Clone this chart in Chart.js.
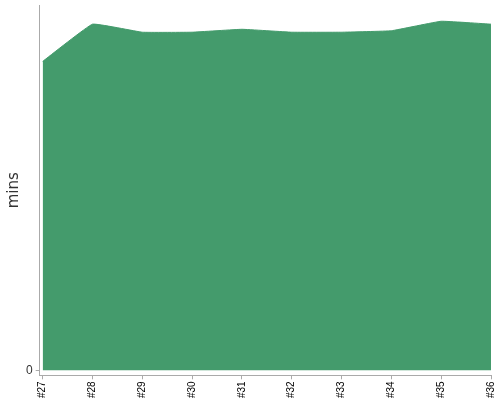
<!DOCTYPE html>
<html>
<head>
<meta charset="utf-8">
<script src="https://cdn.jsdelivr.net/npm/chart.js@4/dist/chart.umd.min.js"></script>
<style>
  html, body { margin: 0; padding: 0; background: #fff; overflow: hidden; }
  #wrap { position: relative; top: -5px; width: 505px; height: 405px; }
</style>
</head>
<body>
<div id="wrap"><canvas id="buildChart"></canvas></div>
<script>
// builds along the x axis, minutes per build
const builds = ['#27', '#28', '#29', '#30', '#31', '#32', '#33', '#34', '#35', '#36'];
const durations = [42.3, 47.4, 46.3, 46.3, 46.7, 46.3, 46.3, 46.5, 47.8, 47.4];
const yTicks = [0];

const points = durations.map((v, i) => ({ x: i, y: v }));

new Chart(document.getElementById('buildChart').getContext('2d'), {
  type: 'line',
  data: {
    datasets: [{
      label: 'mins',
      data: points,
      fill: 'origin',
      backgroundColor: 'rgb(68,155,108)',
      borderColor: 'rgb(68,155,108)',
      borderWidth: 1,
      pointRadius: 0,
      tension: 0.08
    }]
  },
  options: {
    responsive: true,
    maintainAspectRatio: false,
    animation: false,
    layout: { padding: 0 },
    plugins: { legend: { display: false }, tooltip: { enabled: false } },
    scales: {
      x: {
        type: 'linear',
        min: -0.06,
        max: builds.length - 1,
        grid: { drawOnChartArea: false, drawTicks: true, tickLength: 4, color: '#aaa' },
        border: { color: '#aaa' },
        afterBuildTicks: (axis) => {
          axis.ticks = builds.map((b, i) => ({ value: i }));
        },
        ticks: {
          autoSkip: false,
          maxRotation: 90,
          minRotation: 90,
          color: '#000',
          font: { family: 'Liberation Sans', size: 10 },
          padding: 2,
          callback: (v) => builds[v]
        }
      },
      y: {
        min: -0.7,
        max: 50,
        grid: { drawOnChartArea: false, drawTicks: true, tickLength: 4, color: '#aaa' },
        border: { color: '#aaa' },
        afterBuildTicks: (axis) => {
          axis.ticks = yTicks.map(v => ({ value: v }));
        },
        ticks: {
          color: '#333',
          font: { family: 'Liberation Sans', size: 12 },
          padding: 3
        },
        title: {
          display: true,
          text: 'mins',
          color: '#333',
          font: { family: 'DejaVu Sans', size: 15 },
          padding: { top: 5, bottom: 0 }
        }
      }
    }
  }
});
</script>
</body>
</html>
